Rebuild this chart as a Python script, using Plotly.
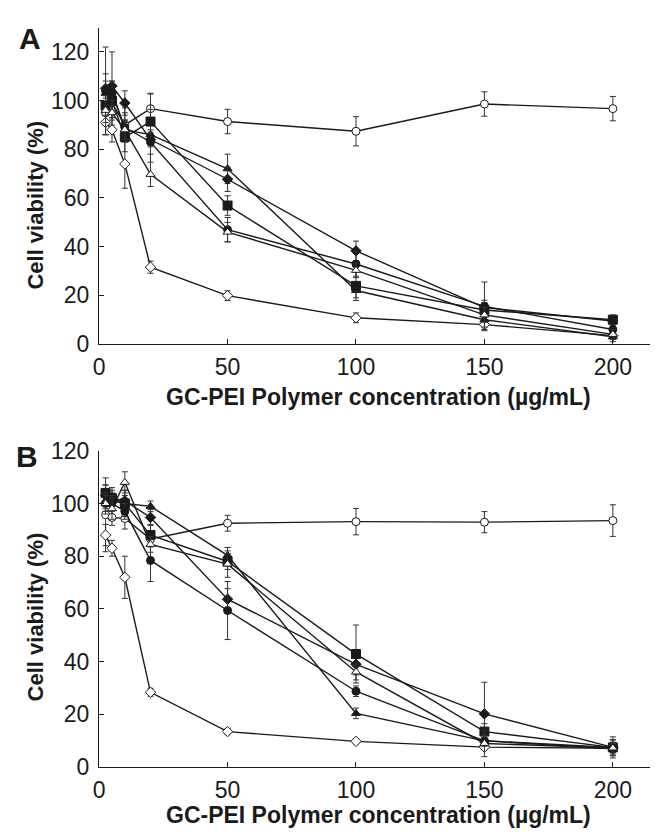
import plotly.graph_objects as go

# ---------------- data ----------------
conc = [2.5, 5, 10, 20, 50, 100, 150, 200]

# Panel A
ctrl_A = [95, 99, 90, 96.7, 91.4, 87.4, 98.6, 96.7]
ctrl_A_err = [9, 6, 7, 6, 5, 6, 5, 5]
diao_A = [91, 88, 74, 31.6, 19.9, 10.8, 8, 3.5]
diao_A_err = [5, 5, 10, 2.5, 2, 2, 2, 1.5]
trif_A = [103, 104, 88, 86, 72, 22, 10, 3]
trif_A_err = [5, 4, 4, 17, 6, 3, 3, 2]
diaf_A = [105, 106, 99, 84, 67.7, 38.3, 15, 9.5]
diaf_A_err = [6, 14, 5, 3, 5, 4, 3, 2]
sqf_A = [98, 100, 85, 91.4, 56.9, 23.9, 14, 10]
sqf_A_err = [4, 4, 6, 5, 4, 6, 3, 2]
cirf_A = [104, 103, 89, 83, 47, 32.9, 15.5, 6]
cirf_A_err = [18, 5, 6, 5, 5, 5, 10, 2]
trio_A = [96, 95, 88, 69.7, 46, 30.3, 12, 4]
trio_A_err = [5, 5, 4, 5, 4, 3, 3, 2]

# Panel B
ctrl_B = [95.7, 94.7, 94.3, 86.5, 92.5, 93.1, 92.9, 93.5]
ctrl_B_err = [14, 3, 4, 3, 3, 5, 4, 6]
diao_B = [88, 83, 72, 28.4, 13.5, 9.8, 7.6, 7.2]
diao_B_err = [4, 3, 8, 1.5, 1.2, 1, 1, 1]
trif_B = [101, 101, 100, 98.9, 80.3, 20.4, 10, 7.5]
trif_B_err = [3, 3, 3, 2, 3, 2, 2, 2]
diaf_B = [103, 102, 101, 94.7, 63.7, 39, 20.2, 7.5]
diaf_B_err = [4, 3, 4, 3, 4, 4, 12, 3]
sqf_B = [104, 102, 100, 88, 78, 42.9, 13.5, 7.5]
sqf_B_err = [3, 4, 5, 4, 3, 11, 3, 4]
cirf_B = [100, 100, 97, 78.4, 59.4, 28.8, 10, 7]
cirf_B_err = [4, 3, 3, 8, 11, 2, 2, 2]
trio_B = [100, 98, 108, 84.5, 77, 36.1, 9, 7.3]
trio_B_err = [3, 4, 4, 3, 5, 3, 5, 3]

x_ticks = [0, 50, 100, 150, 200]
y_ticks = [0, 20, 40, 60, 80, 100, 120]
x_title = "GC-PEI Polymer concentration (µg/mL)"
y_title = "Cell viability (%)"

INK = "#1a1a1a"
FONT = "Liberation Sans, Arial, sans-serif"

styles = [
    # (symbol, filled, size)
    ("circle", False, 8),
    ("diamond", False, 8),
    ("triangle-up", True, 8),
    ("diamond", True, 8),
    ("square", True, 9),
    ("circle", True, 8),
    ("triangle-up", False, 8),
]

panel_A = [(ctrl_A, ctrl_A_err), (diao_A, diao_A_err), (trif_A, trif_A_err),
           (diaf_A, diaf_A_err), (sqf_A, sqf_A_err), (cirf_A, cirf_A_err),
           (trio_A, trio_A_err)]
panel_B = [(ctrl_B, ctrl_B_err), (diao_B, diao_B_err), (trif_B, trif_B_err),
           (diaf_B, diaf_B_err), (sqf_B, sqf_B_err), (cirf_B, cirf_B_err),
           (trio_B, trio_B_err)]

fig = go.Figure()

def add_panel(data, xa, ya):
    for (vals, errs), (sym, filled, size) in zip(data, styles):
        fig.add_trace(go.Scatter(
            x=conc, y=vals, xaxis=xa, yaxis=ya, mode="lines+markers",
            line=dict(color=INK, width=1.4),
            marker=dict(symbol=sym, size=size,
                        color=INK if filled else "white",
                        line=dict(color=INK, width=1)),
            error_y=dict(type="data", array=errs, visible=True,
                         color="#333333", thickness=1, width=3),
            cliponaxis=False, showlegend=False,
        ))

add_panel(panel_A, "x", "y")
add_panel(panel_B, "x2", "y2")

W, H = 660, 839
x0, x1 = 94 / W, 650 / W
xrange = [0, 214.5]

axis_common = dict(
    showline=True, linecolor=INK, linewidth=1.3,
    ticks="inside", ticklen=5, tickcolor=INK, tickwidth=1,
    showgrid=False, zeroline=False,
    tickfont=dict(family=FONT, size=23, color=INK),
)

fig.update_layout(
    width=W, height=H,
    margin=dict(l=0, r=0, t=0, b=0),
    paper_bgcolor="white", plot_bgcolor="white",
    xaxis=dict(domain=[x0, x1], range=xrange, tickvals=x_ticks, anchor="y",
               ticklabelstandoff=2, **axis_common),
    yaxis=dict(domain=[(H - 341.7) / H, (H - 15) / H], range=[0, 130],
               tickvals=y_ticks, anchor="x", ticklabelstandoff=4, **axis_common),
    xaxis2=dict(domain=[x0, x1], range=xrange, tickvals=x_ticks, anchor="y2",
                ticklabelstandoff=2, **axis_common),
    yaxis2=dict(domain=[(H - 778.3) / H, (H - 451.7) / H], range=[0, 120],
                tickvals=y_ticks, anchor="x2", ticklabelstandoff=4, **axis_common),
)

def ann(text, x, y, size, angle=0):
    fig.add_annotation(text=text, x=x / W, y=1 - y / H, xref="paper", yref="paper",
                       showarrow=False, textangle=angle, xanchor="center", yanchor="middle",
                       font=dict(family=FONT, size=size, color=INK))

ann("<b>A</b>", 24, 26, 30)
ann("<b>B</b>", 21, 458, 30)
ann("<b>" + x_title + "</b>", 376, 396, 23)
ann("<b>" + x_title + "</b>", 376, 828, 23)
ann("<b>" + y_title + "</b>", 30, 198, 22, -90)
ann("<b>" + y_title + "</b>", 30, 623, 22, -90)

fig.write_html("out.html")
